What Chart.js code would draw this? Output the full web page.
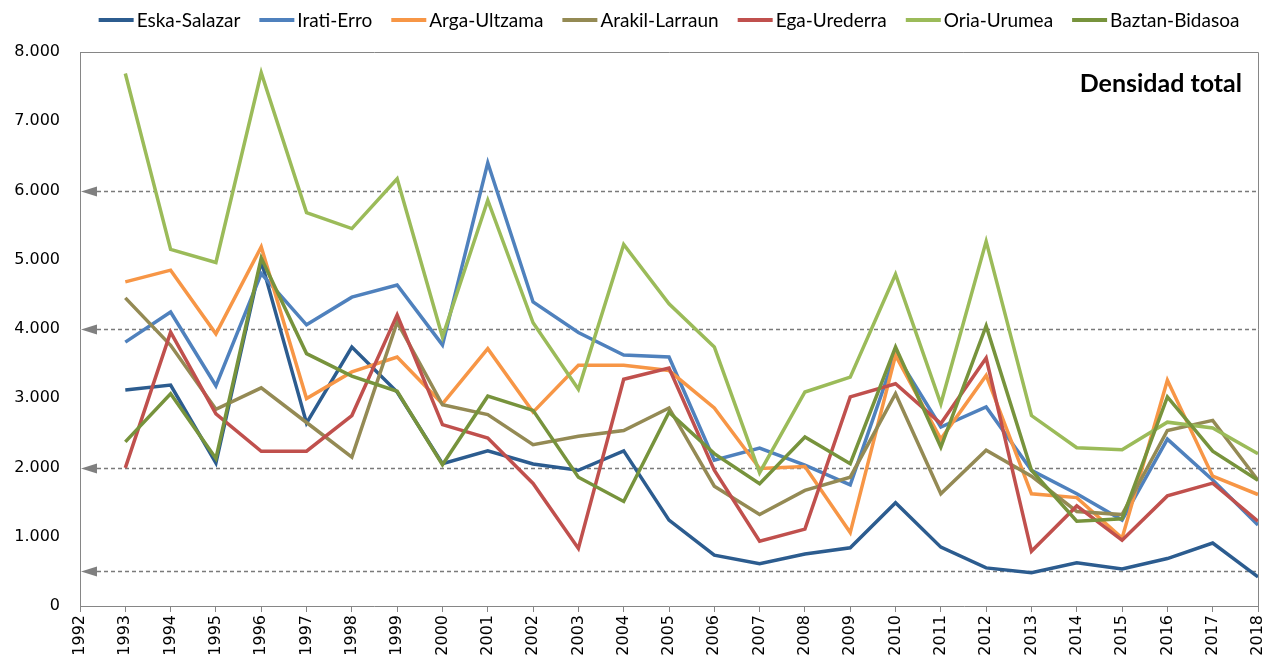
<!DOCTYPE html>
<html>
<head>
<meta charset="utf-8">
<script src="https://cdn.jsdelivr.net/npm/chart.js@4.4.1/dist/chart.umd.min.js"></script>
<style>
  html, body { margin: 0; padding: 0; background: #fff; }
  #c { display: block; }
</style>
</head>
<body>
<canvas id="c" width="1268" height="659"></canvas>
<script>
// ---- data ----
const years = [1993, 1994, 1995, 1996, 1997, 1998, 1999, 2000, 2001, 2002, 2003, 2004, 2005,
               2006, 2007, 2008, 2009, 2010, 2011, 2012, 2013, 2014, 2015, 2016, 2017, 2018];
const seriesNames = ['Eska-Salazar', 'Irati-Erro', 'Arga-Ultzama', 'Arakil-Larraun', 'Ega-Urederra', 'Oria-Urumea', 'Baztan-Bidasoa'];
const eskaSalazar = [3120, 3190, 2065, 4980, 2640, 3740, 3090, 2055, 2240, 2050, 1960, 2240, 1240, 735, 610, 750, 840, 1490, 850, 550, 480, 625, 535, 685, 910, 420];
const iratiErro = [3810, 4245, 3180, 4800, 4060, 4460, 4635, 3770, 6400, 4390, 3950, 3625, 3595, 2105, 2280, 2035, 1750, 3645, 2585, 2875, 1960, 1620, 1240, 2410, 1820, 1170];
const argaUltzama = [4680, 4850, 3930, 5185, 2995, 3380, 3595, 2920, 3715, 2800, 3475, 3475, 3400, 2860, 1985, 2015, 1060, 3620, 2410, 3330, 1620, 1565, 980, 3260, 1875, 1610];
const arakilLarraun = [4450, 3765, 2840, 3150, 2650, 2150, 4100, 2905, 2765, 2330, 2450, 2535, 2860, 1730, 1320, 1670, 1860, 3065, 1620, 2250, 1875, 1365, 1320, 2535, 2680, 1815];
const egaUrederra = [1995, 3955, 2775, 2235, 2235, 2750, 4205, 2620, 2425, 1770, 830, 3275, 3435, 1960, 935, 1110, 3020, 3210, 2635, 3580, 790, 1445, 950, 1590, 1775, 1225];
const oriaUrumea = [7690, 5150, 4960, 7700, 5680, 5450, 6170, 3885, 5860, 4090, 3130, 5220, 4365, 3740, 1925, 3090, 3305, 4790, 2920, 5265, 2750, 2285, 2255, 2655, 2570, 2200];
const baztanBidasoa = [2370, 3065, 2130, 5025, 3645, 3320, 3100, 2040, 3030, 2825, 1860, 1510, 2800, 2200, 1765, 2440, 2055, 3740, 2295, 4045, 1960, 1225, 1260, 3020, 2235, 1815];
const refLines = [6000, 4000, 2000, 500];
const chartTitle = 'Densidad total';

const seriesValues = [eskaSalazar, iratiErro, argaUltzama, arakilLarraun, egaUrederra, oriaUrumea, baztanBidasoa];
const seriesColors = ['#2C5C8F', '#4F81BD', '#F79646', '#948A54', '#C0504D', '#9BBB59', '#77933C'];

function fmtThousands(v) {
  const s = String(Math.round(v));
  return s.replace(/\B(?=(\d{3})+(?!\d))/g, '.');
}

const AXIS_COLOR = '#868686';

const decorPlugin = {
  id: 'decor',
  beforeDatasetsDraw(chart) {
    const { ctx, chartArea: a, scales: { y } } = chart;
    ctx.save();
    refLines.forEach(v => {
      const py = Math.round(y.getPixelForValue(v)) + 0.5;
      ctx.strokeStyle = '#7A7A7A';
      ctx.lineWidth = 1.5;
      ctx.setLineDash([4, 3]);
      ctx.beginPath();
      ctx.moveTo(a.left + 17, py);
      ctx.lineTo(a.right, py);
      ctx.stroke();
      ctx.setLineDash([]);
      ctx.fillStyle = '#808080';
      ctx.beginPath();
      ctx.moveTo(a.left + 1, py);
      ctx.lineTo(a.left + 17, py - 5);
      ctx.lineTo(a.left + 17, py + 5);
      ctx.closePath();
      ctx.fill();
    });
    ctx.strokeStyle = AXIS_COLOR;
    ctx.lineWidth = 1;
    ctx.beginPath();
    ctx.moveTo(a.left, Math.round(a.top) + 0.5);
    ctx.lineTo(Math.round(a.right) + 0.5, Math.round(a.top) + 0.5);
    ctx.lineTo(Math.round(a.right) + 0.5, a.bottom);
    ctx.stroke();
    ctx.restore();
  },
  afterDraw(chart) {
    const { ctx, chartArea: a } = chart;
    ctx.save();
    // legend
    ctx.font = '19px Lato, "Open Sans", sans-serif';
    ctx.textBaseline = 'middle';
    ctx.textAlign = 'left';
    const lineLen = 35, gapText = 3, gapItem = 19;
    const items = chart.data.datasets.map(ds => ({ text: ds.label, color: ds.borderColor, w: ctx.measureText(ds.label).width }));
    let total = 0;
    items.forEach((it, i) => { total += lineLen + gapText + it.w + (i < items.length - 1 ? gapItem : 0); });
    let x = (a.left + a.right) / 2 - total / 2;
    const ly = 20;
    items.forEach(it => {
      ctx.strokeStyle = it.color;
      ctx.lineWidth = 4;
      ctx.beginPath();
      ctx.moveTo(x, ly);
      ctx.lineTo(x + lineLen, ly);
      ctx.stroke();
      ctx.fillStyle = '#000';
      ctx.fillText(it.text, x + lineLen + gapText, ly + 1);
      x += lineLen + gapText + it.w + gapItem;
    });
    // title inside plot
    ctx.font = 'bold 25px Lato, "Open Sans", sans-serif';
    ctx.textAlign = 'right';
    ctx.fillText(chartTitle, a.right - 16, a.top + 32);
    ctx.restore();
  }
};

const n = seriesValues.length;
const datasets = seriesValues.map((vals, i) => ({
  label: seriesNames[i],
  data: vals,
  borderColor: seriesColors[i],
  backgroundColor: seriesColors[i],
  borderWidth: 3.5,
  pointRadius: 0,
  tension: 0,
  fill: false,
  order: n - 1 - i
}));

new Chart(document.getElementById('c'), {
  type: 'line',
  data: { labels: years, datasets },
  options: {
    responsive: false,
    animation: false,
    devicePixelRatio: 1,
    layout: { padding: { top: 52, right: 10, left: 0, bottom: 0 } },
    plugins: { legend: { display: false }, tooltip: { enabled: false }, title: { display: false } },
    scales: {
      x: {
        type: 'linear',
        min: 1992,
        max: 2018,
        ticks: {
          stepSize: 1,
          autoSkip: false,
          maxRotation: 90,
          minRotation: 90,
          padding: 3,
          color: '#000',
          font: { family: 'DejaVu Sans', size: 16 },
          callback: v => String(v)
        },
        grid: { display: true, drawOnChartArea: false, drawTicks: true, tickLength: 6, color: AXIS_COLOR },
        border: { display: true, color: AXIS_COLOR },
        afterFit(s) { s.height = 53; s.paddingRight = 0; s.paddingLeft = 0; }
      },
      y: {
        min: 0,
        max: 8000,
        ticks: {
          stepSize: 1000,
          padding: 20,
          color: '#000',
          font: { family: 'DejaVu Sans', size: 16 },
          callback: v => fmtThousands(v)
        },
        grid: { display: false, drawTicks: false },
        border: { display: true, color: AXIS_COLOR },
        afterFit(s) { s.width = 80; }
      }
    }
  },
  plugins: [decorPlugin]
});
</script>
</body>
</html>
